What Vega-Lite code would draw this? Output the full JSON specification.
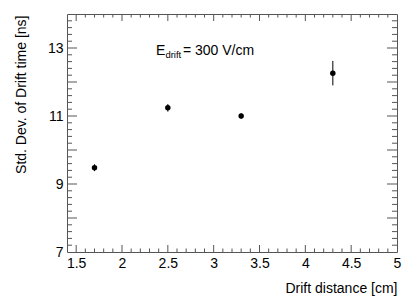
{
  "$schema": "https://vega.github.io/schema/vega-lite/v6.json",
  "width": 330,
  "height": 238,
  "autosize": {"type": "none"},
  "padding": {"left": 67, "top": 14, "right": 22, "bottom": 50},
  "background": "white",
  "config": {
    "view": {"stroke": "#555", "strokeWidth": 1},
    "font": "Liberation Sans",
    "axis": {"labelOverlap": false, "labelFlush": false, "grid": false, "domain": false, "ticks": false, "labelColor": "black", "titleColor": "black"}
  },
  "datasets": {
    "points": [
      {"distance": 1.7, "sigma": 9.48, "low": 9.38, "high": 9.58},
      {"distance": 2.5, "sigma": 11.24, "low": 11.13, "high": 11.35},
      {"distance": 3.3, "sigma": 11.0, "low": 10.92, "high": 11.08},
      {"distance": 4.3, "sigma": 12.26, "low": 11.9, "high": 12.62}
    ],
    "xmajor": [{"v": 1.5}, {"v": 2}, {"v": 2.5}, {"v": 3}, {"v": 3.5}, {"v": 4}, {"v": 4.5}],
    "xminor": [{"v": 1.6}, {"v": 1.7}, {"v": 1.8}, {"v": 1.9}, {"v": 2.1}, {"v": 2.2}, {"v": 2.3}, {"v": 2.4}, {"v": 2.6}, {"v": 2.7}, {"v": 2.8}, {"v": 2.9}, {"v": 3.1}, {"v": 3.2}, {"v": 3.3}, {"v": 3.4}, {"v": 3.6}, {"v": 3.7}, {"v": 3.8}, {"v": 3.9}, {"v": 4.1}, {"v": 4.2}, {"v": 4.3}, {"v": 4.4}, {"v": 4.6}, {"v": 4.7}, {"v": 4.8}, {"v": 4.9}],
    "ymajor": [{"v": 8}, {"v": 9}, {"v": 10}, {"v": 11}, {"v": 12}, {"v": 13}],
    "yminor": [{"v": 7.2}, {"v": 7.4}, {"v": 7.6}, {"v": 7.8}, {"v": 8.2}, {"v": 8.4}, {"v": 8.6}, {"v": 8.8}, {"v": 9.2}, {"v": 9.4}, {"v": 9.6}, {"v": 9.8}, {"v": 10.2}, {"v": 10.4}, {"v": 10.6}, {"v": 10.8}, {"v": 11.2}, {"v": 11.4}, {"v": 11.6}, {"v": 11.8}, {"v": 12.2}, {"v": 12.4}, {"v": 12.6}, {"v": 12.8}, {"v": 13.2}, {"v": 13.4}, {"v": 13.6}, {"v": 13.8}]
  },
  "layer": [
    {
      "data": {"name": "points"},
      "mark": {"type": "rule", "color": "black", "strokeWidth": 1},
      "encoding": {
        "x": {
          "field": "distance", "type": "quantitative",
          "scale": {"domain": [1.4, 5], "nice": false, "zero": false},
          "axis": {
            "orient": "bottom", "grid": false, "domain": false, "ticks": false,
            "values": [1.5, 2, 2.5, 3, 3.5, 4, 4.5, 5],
            "labelPadding": 4, "labelFontSize": 14, "format": "~g", "labelFlush": false, "labelOverlap": false, "labelColor": "black",
            "title": "Drift distance [cm]", "titleFontSize": 14, "titleFontWeight": "normal", "titleColor": "black",
            "titleX": 330, "titleY": 40, "titleAlign": "right", "titleBaseline": "alphabetic"
          }
        },
        "y": {
          "field": "low", "type": "quantitative",
          "scale": {"domain": [7, 14], "nice": false, "zero": false},
          "axis": {
            "orient": "left", "grid": false, "domain": false, "ticks": false,
            "values": [7, 8, 9, 10, 11, 12, 13, 14],
            "labelPadding": 4, "labelFontSize": 14, "format": "~g", "labelFlush": false, "labelOverlap": false, "labelColor": "black",
            "title": "Std. Dev. of Drift time [ns]", "titleFontSize": 14, "titleFontWeight": "normal", "titleColor": "black",
            "titleX": -46, "titleY": 1, "titleAngle": 270, "titleAlign": "right", "titleBaseline": "middle"
          }
        },
        "y2": {"field": "high"}
      }
    },
    {
      "data": {"name": "points"},
      "mark": {"type": "point", "shape": "circle", "filled": true, "color": "black", "opacity": 1, "size": 30},
      "encoding": {
        "x": {"field": "distance", "type": "quantitative"},
        "y": {"field": "sigma", "type": "quantitative"}
      }
    },
    {
      "data": {"name": "xmajor"},
      "mark": {"type": "tick", "orient": "vertical", "size": 7, "thickness": 1, "color": "#555", "opacity": 1, "yOffset": -3.5},
      "encoding": {"x": {"field": "v", "type": "quantitative"}, "y": {"datum": 7, "type": "quantitative"}}
    },
    {
      "data": {"name": "xmajor"},
      "mark": {"type": "tick", "orient": "vertical", "size": 7, "thickness": 1, "color": "#555", "opacity": 1, "yOffset": 3.5},
      "encoding": {"x": {"field": "v", "type": "quantitative"}, "y": {"datum": 14, "type": "quantitative"}}
    },
    {
      "data": {"name": "xminor"},
      "mark": {"type": "tick", "orient": "vertical", "size": 3.5, "thickness": 1, "color": "#555", "opacity": 1, "yOffset": -1.75},
      "encoding": {"x": {"field": "v", "type": "quantitative"}, "y": {"datum": 7, "type": "quantitative"}}
    },
    {
      "data": {"name": "xminor"},
      "mark": {"type": "tick", "orient": "vertical", "size": 3.5, "thickness": 1, "color": "#555", "opacity": 1, "yOffset": 1.75},
      "encoding": {"x": {"field": "v", "type": "quantitative"}, "y": {"datum": 14, "type": "quantitative"}}
    },
    {
      "data": {"name": "ymajor"},
      "mark": {"type": "tick", "orient": "horizontal", "size": 10, "thickness": 1, "color": "#555", "opacity": 1, "xOffset": 5},
      "encoding": {"y": {"field": "v", "type": "quantitative"}, "x": {"datum": 1.4, "type": "quantitative"}}
    },
    {
      "data": {"name": "ymajor"},
      "mark": {"type": "tick", "orient": "horizontal", "size": 10, "thickness": 1, "color": "#555", "opacity": 1, "xOffset": -5},
      "encoding": {"y": {"field": "v", "type": "quantitative"}, "x": {"datum": 5, "type": "quantitative"}}
    },
    {
      "data": {"name": "yminor"},
      "mark": {"type": "tick", "orient": "horizontal", "size": 5, "thickness": 1, "color": "#555", "opacity": 1, "xOffset": 2.5},
      "encoding": {"y": {"field": "v", "type": "quantitative"}, "x": {"datum": 1.4, "type": "quantitative"}}
    },
    {
      "data": {"name": "yminor"},
      "mark": {"type": "tick", "orient": "horizontal", "size": 5, "thickness": 1, "color": "#555", "opacity": 1, "xOffset": -2.5},
      "encoding": {"y": {"field": "v", "type": "quantitative"}, "x": {"datum": 5, "type": "quantitative"}}
    },
    {
      "data": {"values": [{"label": "E"}]},
      "mark": {"type": "text", "align": "left", "baseline": "alphabetic", "fontSize": 14, "fontWeight": "normal", "color": "black"},
      "encoding": {
        "text": {"field": "label"},
        "x": {"datum": 2.37, "type": "quantitative"},
        "y": {"datum": 12.79, "type": "quantitative"}
      }
    },
    {
      "data": {"values": [{"label": "drift"}]},
      "mark": {"type": "text", "align": "left", "baseline": "alphabetic", "fontSize": 9.5, "fontWeight": "normal", "dx": 9.5, "dy": 3.3, "color": "black"},
      "encoding": {
        "text": {"field": "label"},
        "x": {"datum": 2.37, "type": "quantitative"},
        "y": {"datum": 12.79, "type": "quantitative"}
      }
    },
    {
      "data": {"values": [{"label": "= 300 V/cm"}]},
      "mark": {"type": "text", "align": "left", "baseline": "alphabetic", "fontSize": 14, "fontWeight": "normal", "dx": 27, "color": "black"},
      "encoding": {
        "text": {"field": "label"},
        "x": {"datum": 2.37, "type": "quantitative"},
        "y": {"datum": 12.79, "type": "quantitative"}
      }
    }
  ]
}
